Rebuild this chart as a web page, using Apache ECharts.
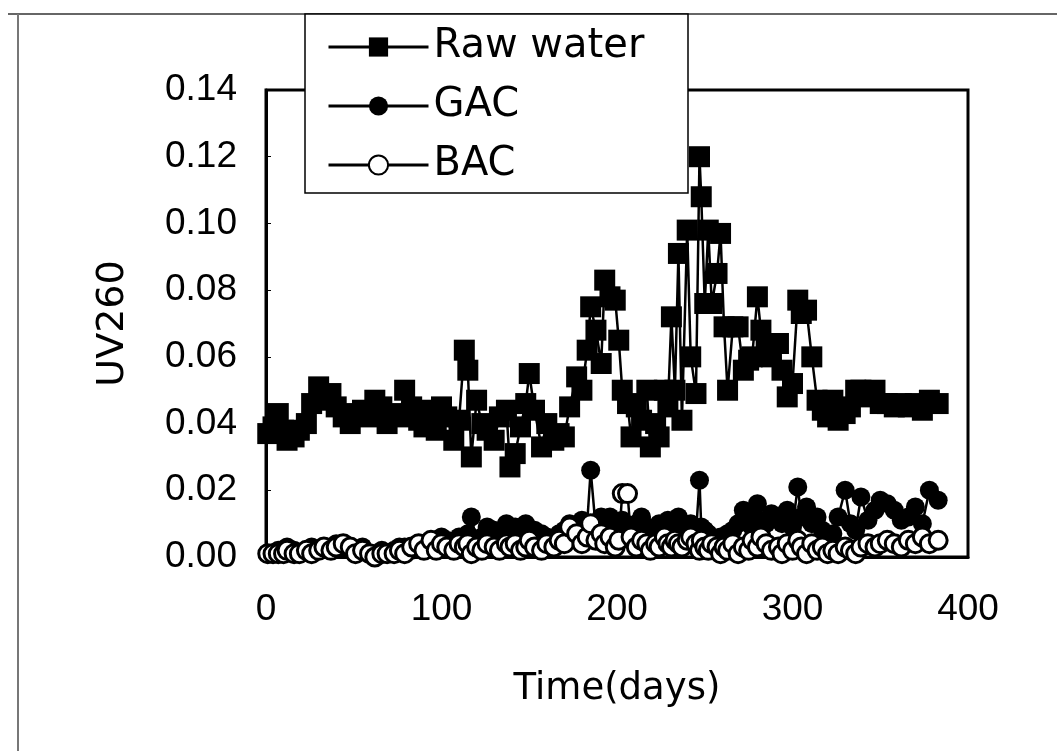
<!DOCTYPE html>
<html>
<head>
<meta charset="utf-8">
<script src="https://cdn.jsdelivr.net/npm/echarts@6/dist/echarts.min.js"></script>
<style>
  html, body { margin: 0; padding: 0; background: #fff; }
  #chart { width: 1057px; height: 751px; }
</style>
</head>
<body>
<div id="chart"></div>
<script>
// sampling days (shared by the three series)
var days = [
  1, 4, 7, 10, 12, 16, 19, 23, 26, 30,
  33, 37, 40, 44, 48, 51, 55, 59, 62, 66,
  69, 73, 76, 79, 83, 87, 90, 94, 97, 100,
  103, 107, 110, 113, 115, 117, 120, 123, 126, 130,
  133, 137, 139, 142, 145, 148, 150, 153, 157, 160,
  164, 167, 170, 173, 177, 180, 183, 185, 188, 191,
  193, 196, 199, 201, 203, 206, 208, 211, 214, 217,
  219, 222, 224, 227, 229, 231, 233, 235, 237, 240,
  242, 245, 247, 248, 250, 252, 254, 257, 259, 261,
  263, 266, 269, 272, 275, 277, 280, 282, 285, 288,
  292, 294, 297, 300, 303, 305, 308, 311, 314, 317,
  320, 323, 326, 330, 333, 336, 339, 343, 347, 350,
  354, 358, 362, 366, 370, 374, 378, 383
];

var rawWater = [
  0.037, 0.039, 0.043, 0.038, 0.035, 0.036, 0.038, 0.040, 0.046, 0.051,
  0.047, 0.049, 0.045, 0.042, 0.040, 0.043, 0.044, 0.042, 0.047, 0.045,
  0.040, 0.043, 0.042, 0.050, 0.045, 0.041, 0.039, 0.044, 0.038, 0.045,
  0.042, 0.035, 0.041, 0.062, 0.056, 0.030, 0.047, 0.040, 0.038, 0.035,
  0.042, 0.044, 0.027, 0.031, 0.039, 0.046, 0.055, 0.044, 0.033, 0.040,
  0.035, 0.037, 0.036, 0.045, 0.054, 0.050, 0.062, 0.075, 0.068, 0.058,
  0.083, 0.078, 0.077, 0.065, 0.050, 0.046, 0.036, 0.045, 0.041, 0.050,
  0.033, 0.040, 0.036, 0.050, 0.045, 0.072, 0.050, 0.091, 0.041, 0.098,
  0.060, 0.049, 0.120, 0.108, 0.076, 0.098, 0.076, 0.085, 0.097, 0.069,
  0.050, 0.069, 0.069, 0.056, 0.059, 0.060, 0.078, 0.068, 0.064, 0.060,
  0.064, 0.056, 0.048, 0.052, 0.077, 0.073, 0.074, 0.060, 0.047, 0.044,
  0.042, 0.047, 0.041, 0.043, 0.045, 0.050, 0.050, 0.048, 0.050, 0.046,
  0.046, 0.045, 0.046, 0.045, 0.046, 0.044, 0.047, 0.046
];

var gac = [
  0.001, 0.001, 0.002, 0.002, 0.003, 0.002, 0.001, 0.002, 0.003, 0.002,
  0.003, 0.002, 0.004, 0.003, 0.002, 0.002, 0.003, 0.001, 0.001, 0.002,
  0.001, 0.002, 0.003, 0.003, 0.002, 0.004, 0.003, 0.005, 0.004, 0.006,
  0.005, 0.004, 0.006, 0.004, 0.007, 0.012, 0.005, 0.006, 0.009, 0.008,
  0.007, 0.010, 0.008, 0.009, 0.007, 0.010, 0.006, 0.008, 0.007, 0.006,
  0.005, 0.007, 0.008, 0.010, 0.009, 0.011, 0.010, 0.026, 0.008, 0.012,
  0.010, 0.012, 0.009, 0.007, 0.011, 0.008, 0.007, 0.010, 0.012, 0.009,
  0.008, 0.006, 0.010, 0.008, 0.011, 0.010, 0.007, 0.012, 0.009, 0.008,
  0.010, 0.007, 0.023, 0.009, 0.008, 0.007, 0.005, 0.004, 0.006, 0.005,
  0.007, 0.008, 0.010, 0.014, 0.012, 0.009, 0.016, 0.011, 0.010, 0.013,
  0.012, 0.010, 0.014, 0.009, 0.021, 0.012, 0.015, 0.010, 0.012, 0.008,
  0.006, 0.007, 0.012, 0.020, 0.010, 0.008, 0.018, 0.011, 0.014, 0.017,
  0.016, 0.014, 0.011, 0.012, 0.015, 0.010, 0.020, 0.017
];

var bac = [
  0.001, 0.001, 0.001, 0.001, 0.002, 0.001, 0.001, 0.002, 0.001, 0.002,
  0.003, 0.002, 0.003, 0.004, 0.003, 0.001, 0.002, 0.001, 0.000, 0.001,
  0.001, 0.001, 0.002, 0.001, 0.003, 0.004, 0.002, 0.005, 0.002, 0.004,
  0.003, 0.002, 0.004, 0.003, 0.004, 0.001, 0.003, 0.002, 0.004, 0.003,
  0.002, 0.004, 0.003, 0.004, 0.002, 0.003, 0.005, 0.003, 0.002, 0.004,
  0.003, 0.005, 0.004, 0.009, 0.007, 0.004, 0.006, 0.010, 0.005, 0.007,
  0.004, 0.006, 0.003, 0.005, 0.019, 0.019, 0.006, 0.003, 0.005, 0.004,
  0.002, 0.004, 0.003, 0.006, 0.004, 0.003, 0.005, 0.004, 0.003, 0.005,
  0.006, 0.004, 0.002, 0.005, 0.003, 0.002, 0.004, 0.003, 0.001, 0.003,
  0.002, 0.004, 0.001, 0.003, 0.002, 0.005, 0.003, 0.006, 0.004, 0.002,
  0.003, 0.001, 0.004, 0.002, 0.005, 0.003, 0.001, 0.004, 0.002, 0.003,
  0.001, 0.002, 0.001, 0.003, 0.002, 0.001, 0.003, 0.004, 0.003, 0.004,
  0.005, 0.004, 0.003, 0.005, 0.004, 0.006, 0.004, 0.005
];

var xTicks = [0, 100, 200, 300, 400];
var yTicks = [0, 0.02, 0.04, 0.06, 0.08, 0.10, 0.12, 0.14];

function pairs(vals) {
  return days.map(function (d, i) { return [d, vals[i]]; });
}

var tickFont = 'Liberation Sans, Arial, sans-serif';
var titleFont = 'DejaVu Sans, sans-serif';

var chart = echarts.init(document.getElementById('chart'));
chart.setOption({
  animation: false,
  backgroundColor: '#fff',
  grid: {
    left: 266, right: 89, top: 90, bottom: 194,
    show: true, borderColor: '#000', borderWidth: 3
  },
  xAxis: {
    type: 'value',
    min: xTicks[0], max: xTicks[xTicks.length - 1], interval: 100,
    axisLine: { show: true, lineStyle: { color: '#000', width: 3 } },
    axisTick: { show: false },
    splitLine: { show: false },
    axisLabel: { fontSize: 37, color: '#000', fontFamily: tickFont, margin: 34 },
    name: 'Time(days)',
    nameLocation: 'middle',
    nameGap: 114,
    nameTextStyle: { fontSize: 37, color: '#000', fontFamily: titleFont }
  },
  yAxis: {
    type: 'value',
    min: yTicks[0], max: yTicks[yTicks.length - 1], interval: 0.02,
    axisLine: { show: true, lineStyle: { color: '#000', width: 3 } },
    axisTick: { show: true, inside: true, length: 5, lineStyle: { color: '#000' } },
    splitLine: { show: false },
    axisLabel: {
      fontSize: 37, color: '#000', fontFamily: tickFont, margin: 29,
      formatter: function (v) { return v.toFixed(2); }
    },
    name: 'UV260',
    nameLocation: 'middle',
    nameGap: 134,
    nameRotate: 90,
    nameTextStyle: { fontSize: 38, color: '#000', fontFamily: titleFont }
  },
  legend: {
    z: 20,
    orient: 'vertical',
    left: 327, top: 27,
    padding: 0,
    itemWidth: 100, itemHeight: 24, itemGap: 19,
    lineStyle: { width: 3 },
    textStyle: { fontSize: 40, lineHeight: 36, color: '#000', fontFamily: titleFont },
    data: ['Raw water', 'GAC', 'BAC']
  },
  graphic: [
    { type: 'line', z: 1, shape: { x1: 8, y1: 14, x2: 1057, y2: 14 },
      style: { stroke: '#666', lineWidth: 2 } },
    { type: 'line', z: 1, shape: { x1: 18, y1: 14, x2: 18, y2: 751 },
      style: { stroke: '#777', lineWidth: 2 } },
    { type: 'rect', z: 10, shape: { x: 305, y: 14, width: 383, height: 179 },
      style: { fill: '#fff', stroke: '#000', lineWidth: 1.5 } }
  ],
  series: [
    {
      name: 'Raw water', type: 'line', data: pairs(rawWater),
      symbol: 'rect', symbolSize: 21,
      itemStyle: { color: '#000' },
      lineStyle: { color: '#000', width: 2.5 }
    },
    {
      name: 'GAC', type: 'line', data: pairs(gac),
      symbol: 'circle', symbolSize: 19,
      itemStyle: { color: '#000' },
      lineStyle: { color: '#000', width: 2.5 }
    },
    {
      name: 'BAC', type: 'line', data: pairs(bac),
      symbol: 'circle', symbolSize: 18,
      itemStyle: { color: '#fff', borderColor: '#000', borderWidth: 3 },
      lineStyle: { color: '#000', width: 2.5 }
    }
  ]
});
</script>
</body>
</html>
